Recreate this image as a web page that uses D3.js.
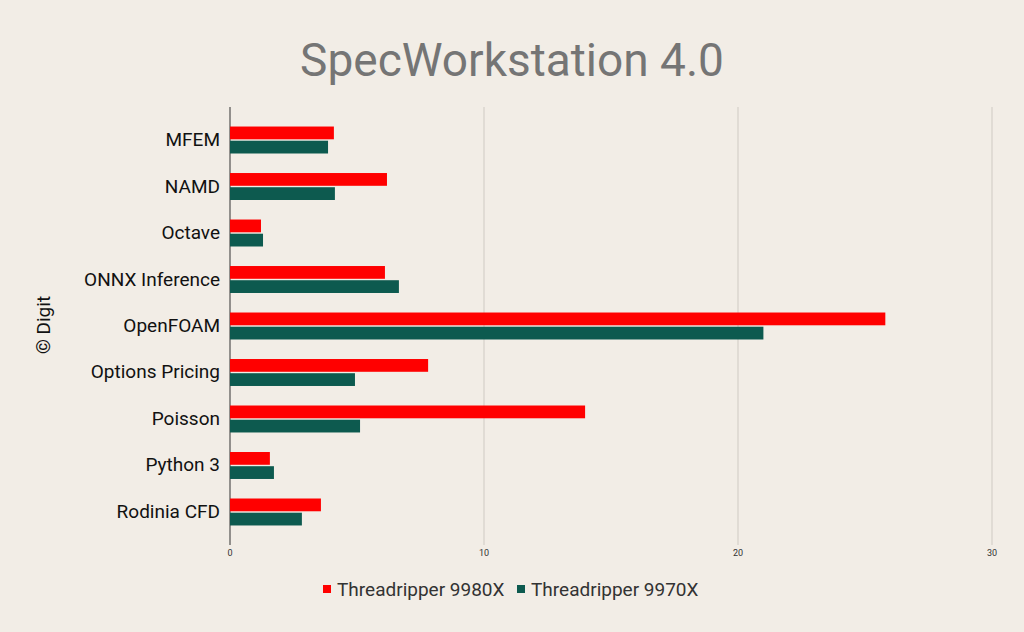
<!DOCTYPE html>
<html><head><meta charset="utf-8">
<script src="https://cdn.jsdelivr.net/npm/d3@7"></script>
<style>body{margin:0;background:#f2ede6;}svg{display:block;font-family:Roboto,sans-serif;}</style>
</head><body><svg id="c" width="1024" height="632"></svg>
<script>
const categories=["MFEM","NAMD","Octave","ONNX Inference","OpenFOAM","Options Pricing","Poisson","Python 3","Rodinia CFD"];
const seriesNames=["Threadripper 9980X","Threadripper 9970X"];
const s9980=[4.09,6.18,1.22,6.1,25.8,7.8,13.98,1.57,3.58];
const s9970=[3.86,4.13,1.3,6.65,21.0,4.92,5.12,1.73,2.83];
const ticks=[0,10,20,30];
const colors=["#ff0000","#0d5a4f"];
const svg=d3.select("#c");
svg.append("rect").attr("width",1024).attr("height",632).attr("fill","#f2ede6");
const x=d3.scaleLinear().domain([0,30]).range([230,992]);
const y=d3.scaleBand().domain(categories).range([107,545]).paddingInner(0.42).paddingOuter(0.42);
svg.append("text").attr("x",512).attr("y",76).attr("text-anchor","middle").attr("font-size",46).attr("fill","#757575").text("SpecWorkstation 4.0");
svg.append("g").selectAll("line").data(ticks.slice(1)).join("line").attr("x1",d=>x(d)).attr("x2",d=>x(d)).attr("y1",107).attr("y2",545).attr("stroke","#cfcac3");
svg.append("line").attr("x1",230).attr("x2",230).attr("y1",107).attr("y2",545).attr("stroke","#333");
svg.append("g").selectAll("text").data(ticks).join("text").attr("x",d=>x(d)).attr("y",556).attr("text-anchor","middle").attr("font-size",9).attr("fill","#333").text(d=>d);
const sub=d3.scaleBand().domain([0,1]).range([0,y.bandwidth()]).paddingInner(0.1);
[s9980,s9970].forEach((s,i)=>{
 svg.append("g").selectAll("rect").data(s).join("rect").attr("x",x(0)).attr("y",(d,j)=>y(categories[j])+sub(i)).attr("height",sub.bandwidth()).attr("width",d=>x(d)-x(0)).attr("fill",colors[i]);
});
svg.append("g").selectAll("text").data(categories).join("text").attr("x",220).attr("y",d=>y(d)+y.bandwidth()/2+6).attr("text-anchor","end").attr("font-size",19).attr("fill","#111").text(d=>d);
svg.append("text").attr("transform","translate(50,325) rotate(-90)").attr("text-anchor","middle").attr("font-size",19).attr("fill","#111").text("© Digit");
const lg=svg.append("g");
let lx=[323,517];
seriesNames.forEach((n,i)=>{
 lg.append("rect").attr("x",lx[i]).attr("y",585).attr("width",8).attr("height",8).attr("fill",colors[i]);
 lg.append("text").attr("x",lx[i]+14).attr("y",596).attr("font-size",19).attr("fill","#333").text(n);
});
</script></body></html>
